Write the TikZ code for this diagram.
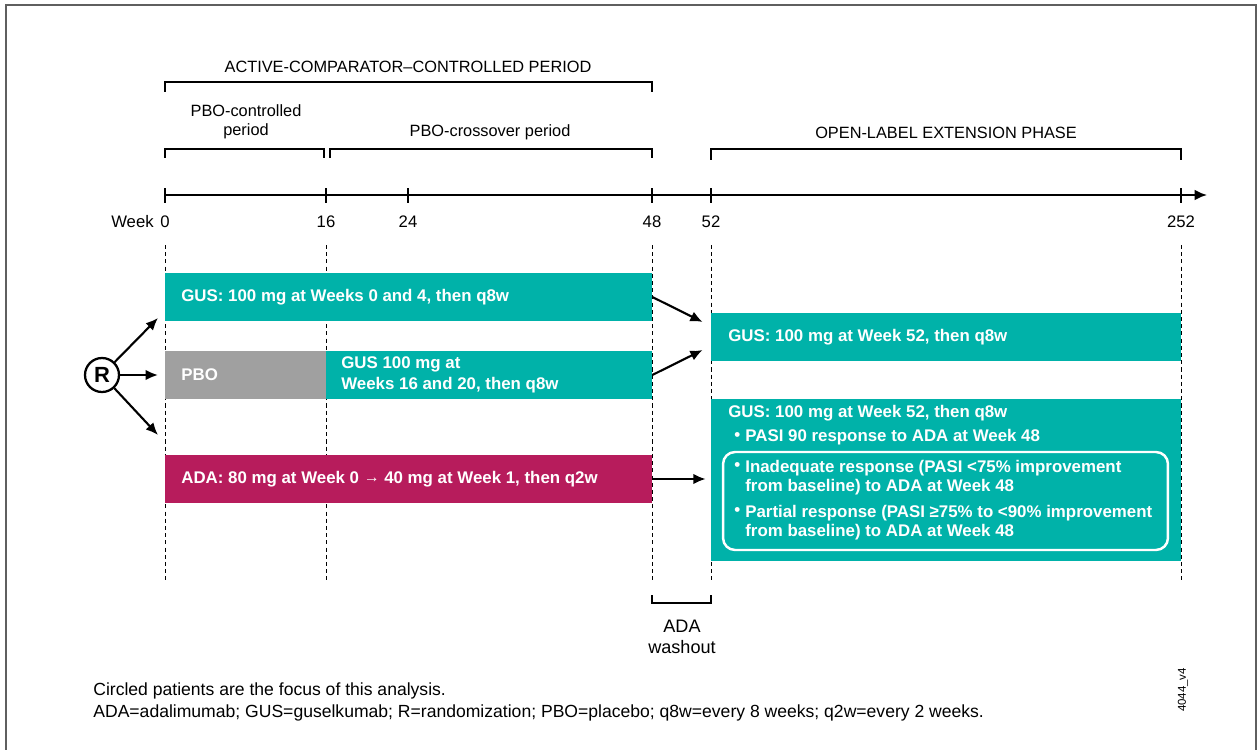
\documentclass[tikz,border=0pt]{standalone}
\usepackage{fontspec}
\setmainfont{Liberation Sans}
\usetikzlibrary{arrows.meta,calc}
\definecolor{gusc}{RGB}{0,178,169}
\definecolor{adac}{RGB}{183,28,92}
\definecolor{pboc}{RGB}{160,160,160}
\definecolor{framec}{RGB}{95,95,95}
\tikzset{
  hdr/.style={font=\fontsize{9.3}{11}\selectfont, align=center, inner sep=0pt},
  wk/.style={font=\fontsize{9.5}{11}\selectfont, inner sep=0pt},
  bar/.style={draw=none, inner sep=0pt, minimum height=0.96cm},
  bartxt/.style={font=\bfseries\fontsize{9.6}{12}\selectfont, text=white, anchor=west, inner sep=0pt, align=left},
  brk/.style={line width=0.75pt},
  vdash/.style={line width=0.5pt, dash pattern=on 2.3pt off 1.8pt},
  arr/.style={line width=1.2pt, -{Latex[length=7pt,width=6pt]}},
  fn/.style={font=\fontsize{10}{12}\selectfont, anchor=west, inner sep=0pt}
}
\begin{document}
\begin{tikzpicture}[x=0.02cm,y=-0.02cm]
\useasboundingbox (0,0) rectangle (1258,750);
% frame
\draw[framec, line width=1.2pt] (6,752) -- (6,5) -- (1256,5) -- (1256,752);

% headers
\node[hdr] (hacc) at (408,67) {ACTIVE-COMPARATOR–CONTROLLED PERIOD};
\draw[brk] (165,92) -- (165,82) -- (652,82) -- (652,92);
\node[hdr] (hpbo) at (246,122) {PBO-controlled\\period};
\draw[brk] (165,158) -- (165,149) -- (324,149) -- (324,158);
\node[hdr] (hcross) at (490,132) {PBO-crossover period};
\draw[brk] (330,158) -- (330,149) -- (652,149) -- (652,158);
\node[hdr] (hole) at (946,133) {OPEN-LABEL EXTENSION PHASE};
\draw[brk] (711,160) -- (711,149) -- (1181,149) -- (1181,160);

% timeline
\coordinate (t0) at (165,195);
\coordinate (tend) at (1207,195);
\draw[line width=1.1pt, -{Latex[length=7pt,width=6pt]}] (t0) -- (tend);
\foreach \x in {165,326,408,652,711,1181} {\draw[line width=1.1pt] (\x,188) -- (\x,203);}
\node[wk, anchor=east] (wlab) at (154,222) {Week};
\node[wk] (w0) at (165,222) {0};
\node[wk] (w16) at (326,222) {16};
\node[wk] (w24) at (408,222) {24};
\node[wk] (w48) at (652,222) {48};
\node[wk] (w52) at (711,222) {52};
\node[wk] (w252) at (1181,222) {252};

% dashed verticals
\foreach \x in {165,326,652,711,1181} {\draw[vdash] (\x,245) -- (\x,582);}

% bars
\node[bar, fill=gusc, minimum width=9.74cm] (gus1) at (408.5,297) {};
\node[bartxt] (gus1t) at (181,297) {GUS: 100 mg at Weeks 0 and 4, then q8w};
\node[bar, fill=pboc, minimum width=3.22cm] (pbo) at (245.5,375) {};
\node[bartxt] (pbot) at (181,375) {PBO};
\node[bar, fill=gusc, minimum width=6.52cm] (gus2) at (489,375) {};
\node[bartxt] (gus2t) at (341,375) {GUS 100 mg at\\Weeks 16 and 20, then q8w};
\node[bar, fill=adac, minimum width=9.74cm] (ada) at (408.5,479) {};
\node[bartxt] (adat) at (181,479) {ADA: 80 mg at Week 0 {\normalfont\fontsize{9}{9}\selectfont\raisebox{0.3pt}{→}} 40 mg at Week 1, then q2w};

\node[bar, fill=gusc, minimum width=9.40cm] (gus3) at (946,337) {};
\node[bartxt] (gus3t) at (728,337) {GUS: 100 mg at Week 52, then q8w};
\node[bar, fill=gusc, minimum width=9.40cm, minimum height=3.24cm] (gus4) at (946,480) {};
\node[draw=white, line width=1.4pt, rounded corners=0.24cm, minimum width=8.90cm, minimum height=1.96cm, inner sep=0pt] (inner) at (945.5,501) {};
\node[bartxt] (l1) at (728,413) {GUS: 100 mg at Week 52, then q8w};
\node[bartxt] (b1) at (734,437) {•};
\node[bartxt] (l2) at (745,437) {PASI 90 response to ADA at Week 48};
\node[bartxt] (b2) at (734,467) {•};
\node[bartxt] (l3) at (745,477.5) {Inadequate response (PASI <75\% improvement\\[-1pt]from baseline) to ADA at Week 48};
\node[bartxt] (b3) at (734,512) {•};
\node[bartxt] (l4) at (745,522.5) {Partial response (PASI ≥75\% to <90\% improvement\\[-1pt]from baseline) to ADA at Week 48};

% randomization
\node[draw, circle, line width=1.3pt, minimum size=0.68cm, inner sep=0pt, font=\bfseries\fontsize{12.5}{13}\selectfont] (R) at (102,375) {R};
\coordinate (ra) at (158,318);
\coordinate (rb) at (158,375);
\coordinate (rc) at (158,435);
\draw[arr] (R) -- (ra);
\draw[arr] (R) -- (rb);
\draw[arr] (R) -- (rc);

% crossover arrows
\draw[arr] (gus1.east) -- ($(gus3.west)+(-8,-15)$);
\draw[arr] (gus2.east) -- ($(gus3.west)+(-8,13)$);
\draw[arr] (ada.east) -- ($(gus4.west)+(-5,-1)$);

% washout
\draw[brk, line width=1.1pt] (652,595) -- (652,603) -- (711,603) -- (711,595);
\node[hdr, font=\fontsize{10.3}{12}\selectfont] (wash) at (682,637) {ADA\\washout};

% footnotes
\node[fn] (fn1) at (93,691) {Circled patients are the focus of this analysis.};
\node[fn] (fn2) at (93,713) {ADA=adalimumab; GUS=guselkumab; R=randomization; PBO=placebo; q8w=every 8 weeks; q2w=every 2 weeks.};
\node[font=\fontsize{6.5}{7}\selectfont, rotate=90, inner sep=0pt] (ver) at (1183,690) {4044\_v4};
\end{tikzpicture}
\end{document}
